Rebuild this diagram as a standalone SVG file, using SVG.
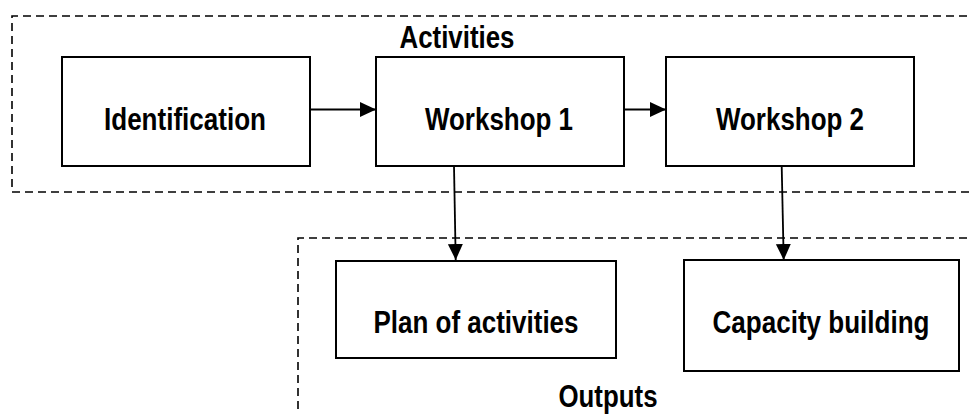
<svg xmlns="http://www.w3.org/2000/svg" width="972" height="414" viewBox="0 0 972 414">
  <style>
    .box { fill: #ffffff; stroke: #000000; stroke-width: 2; }
    .frame { fill: none; stroke: #000000; stroke-width: 1.6; stroke-dasharray: 8 5; }
    .link { fill: none; stroke: #000000; stroke-width: 1.8; }
    .label { font-family: "Liberation Sans", Arial, sans-serif; font-weight: bold; font-size: 31px; fill: #000000; text-anchor: middle; }
  </style>
  <defs>
    <marker id="arrow" markerUnits="userSpaceOnUse" markerWidth="17" markerHeight="16" refX="16" refY="7.5" orient="auto">
      <path d="M0,0 L16,7.5 L0,15 z" fill="#000000"/>
    </marker>
  </defs>

  <rect width="972" height="414" fill="#ffffff"/>

  <!-- dashed group frames -->
  <g id="activities-frame">
    <path class="frame" d="M980 16 H12 V192 H980"/>
    <text class="label" x="457" y="48" textLength="115" lengthAdjust="spacingAndGlyphs">Activities</text>
  </g>
  <g id="outputs-frame">
    <path class="frame" d="M980 238 H298 V420"/>
    <text class="label" x="608" y="407" textLength="99" lengthAdjust="spacingAndGlyphs">Outputs</text>
  </g>

  <!-- connectors -->
  <g id="connectors">
    <line class="link" x1="310" y1="109.5" x2="376" y2="109.5" marker-end="url(#arrow)"/>
    <line class="link" x1="624" y1="109.5" x2="666" y2="109.5" marker-end="url(#arrow)"/>
    <line class="link" x1="454" y1="166" x2="455.7" y2="260" marker-end="url(#arrow)"/>
    <line class="link" x1="781.7" y1="166" x2="783.7" y2="260" marker-end="url(#arrow)"/>
  </g>

  <!-- nodes -->
  <g id="identification">
    <rect class="box" x="62" y="57" width="248" height="109"/>
    <text class="label" x="185" y="130" textLength="162" lengthAdjust="spacingAndGlyphs">Identification</text>
  </g>
  <g id="workshop-1">
    <rect class="box" x="376" y="57" width="248" height="109"/>
    <text class="label" x="499" y="130" textLength="148" lengthAdjust="spacingAndGlyphs">Workshop 1</text>
  </g>
  <g id="workshop-2">
    <rect class="box" x="666" y="57" width="248" height="109"/>
    <text class="label" x="790" y="130" textLength="148" lengthAdjust="spacingAndGlyphs">Workshop 2</text>
  </g>
  <g id="plan-of-activities">
    <rect class="box" x="336" y="261" width="280" height="97"/>
    <text class="label" x="476" y="333" textLength="205" lengthAdjust="spacingAndGlyphs">Plan of activities</text>
  </g>
  <g id="capacity-building">
    <rect class="box" x="684" y="260" width="275" height="111"/>
    <text class="label" x="821" y="333" textLength="217" lengthAdjust="spacingAndGlyphs">Capacity building</text>
  </g>
</svg>
